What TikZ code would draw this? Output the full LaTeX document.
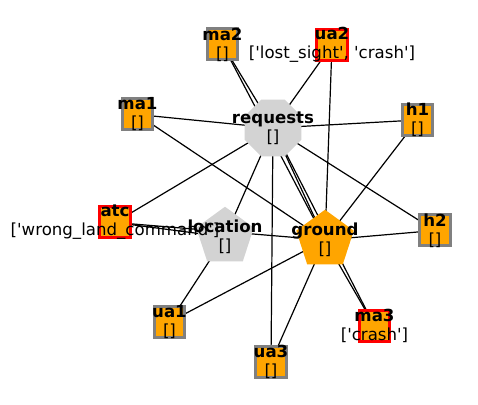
\documentclass[tikz,border=0pt]{standalone}
\usepackage{fontspec}
\newfontfamily\lblfont{DejaVu Sans}
\definecolor{AgentColor}{HTML}{FFA500}
\definecolor{HubColor}{HTML}{D3D3D3}
\definecolor{RimColor}{HTML}{808080}
\definecolor{FaultColor}{HTML}{FF0000}
\usetikzlibrary{shapes.geometric, backgrounds}

\begin{document}
\begin{tikzpicture}[x=0.02cm, y=-0.02cm,
    agent/.style={draw=RimColor, line width=0.06cm, fill=AgentColor, inner sep=0pt, minimum size=0.62cm},
    faulty/.style={agent, draw=FaultColor},
    hub/.style={regular polygon, regular polygon sides=#1, fill=HubColor, inner sep=0pt, minimum size=1.21cm},
    link/.style={line width=0.024cm},
    tag/.style={font=\lblfont\fontsize{9.45}{10.8}\selectfont, align=center, inner sep=0pt}]
  \useasboundingbox (0,0) rectangle (478,405);

  % hubs
  \node[hub=8, minimum size=1.23cm] (requests) at (273,128) {};
  \node[hub=5] (location) at (225,237) {};
  \node[hub=5, fill=AgentColor] (ground) at (325,240) {};

  % agents
  \node[agent] (ma1) at (137.5,114.5) {};
  \node[agent] (ma2) at (222.5,44.5) {};
  \node[faulty] (ma3) at (374.5,326) {};
  \node[agent] (ua1) at (169.5,322) {};
  \node[faulty] (ua2) at (332,45) {};
  \node[agent] (ua3) at (271,362) {};
  \node[agent] (h1) at (417.5,120) {};
  \node[agent] (h2) at (435,230.5) {};
  \node[faulty] (atc) at (115,222.5) {};

  \begin{scope}[on background layer]
    \draw[link] (requests.center) -- (ma1.center);
    \draw[link] (requests.center) -- (ma2.center);
    \draw[link] (requests.center) -- (ma3.center);
    \draw[link] (requests.center) -- (ua2.center);
    \draw[link] (requests.center) -- (ua3.center);
    \draw[link] (requests.center) -- (h1.center);
    \draw[link] (requests.center) -- (h2.center);
    \draw[link] (requests.center) -- (atc.center);
    \draw[link] (requests.center) -- (location.center);
    \draw[link] (requests.center) -- (ground.center);
    \draw[link] (ground.center) -- (ma1.center);
    \draw[link] (ground.center) -- (ma2.center);
    \draw[link] (ground.center) -- (ma3.center);
    \draw[link] (ground.center) -- (ua1.center);
    \draw[link] (ground.center) -- (ua2.center);
    \draw[link] (ground.center) -- (ua3.center);
    \draw[link] (ground.center) -- (h1.center);
    \draw[link] (ground.center) -- (h2.center);
    \draw[link] (ground.center) -- (atc.center);
    \draw[link] (location.center) -- (atc.center);
    \draw[link] (location.center) -- (ua1.center);
  \end{scope}

  % labels
  \node[tag] (requests-tag) at (requests) {\textbf{requests}\\{[]}};
  \node[tag] (location-tag) at (location) {\textbf{location}\\{[]}};
  \node[tag] (ground-tag) at (ground) {\textbf{ground}\\{[]}};
  \node[tag] (ma1-tag) at (ma1) {\textbf{ma1}\\{[]}};
  \node[tag] (ma2-tag) at (ma2) {\textbf{ma2}\\{[]}};
  \node[tag] (ma3-tag) at (ma3) {\textbf{ma3}\\{['crash']}};
  \node[tag] (ua1-tag) at (ua1) {\textbf{ua1}\\{[]}};
  \node[tag] (ua2-tag) at (ua2) {\textbf{ua2}\\{['lost\_sight', 'crash']}};
  \node[tag] (ua3-tag) at (ua3) {\textbf{ua3}\\{[]}};
  \node[tag] (h1-tag) at (h1) {\textbf{h1}\\{[]}};
  \node[tag] (h2-tag) at (h2) {\textbf{h2}\\{[]}};
  \node[tag] (atc-tag) at (atc) {\textbf{atc}\\{['wrong\_land\_command']}};
\end{tikzpicture}
\end{document}
